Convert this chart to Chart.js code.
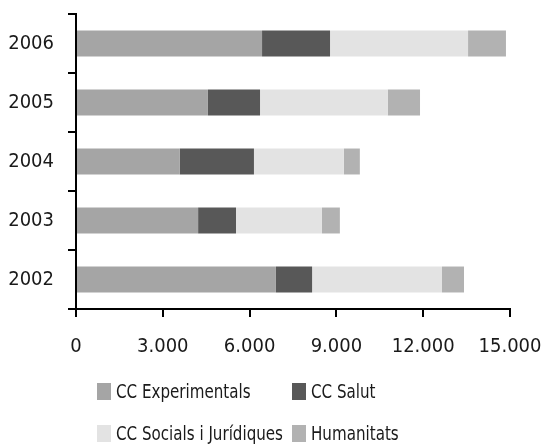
<!DOCTYPE html>
<html>
<head>
<meta charset="utf-8">
<script src="https://cdn.jsdelivr.net/npm/chart.js@4"></script>
<style>
    html, body { margin: 0; padding: 0; background: #fff; }
    #wrap { position: relative; width: 544px; height: 444px; }
    #legend { position: absolute; left: 0; top: 0; width: 544px; height: 444px; pointer-events: none; }
    .item { position: absolute; display: flex; align-items: center; font-family: "DejaVu Sans Condensed", sans-serif; font-size: 20px; line-height: 17px; color: #1a1a1a; white-space: nowrap; }
    .box { width: 14px; height: 17px; margin-right: 5px; flex: none; }
    .txt { display: inline-block; transform: scaleX(0.84); transform-origin: left center; }
</style>
</head>
<body>
<div id="wrap">
    <canvas id="chart" width="544" height="444"></canvas>
    <div id="legend"></div>
</div>
<script>
const years = ["2006", "2005", "2004", "2003", "2002"];
const experimentals = [6430, 4560, 3590, 4220, 6910];
const salut = [2350, 1800, 2560, 1310, 1250];
const socials = [4770, 4420, 3110, 2970, 4490];
const humanitats = [1310, 1110, 550, 620, 760];
const xTicks = [0, 3000, 6000, 9000, 12000, 15000];

const seriesNames = ["CC Experimentals", "CC Salut", "CC Socials i Jurídiques", "Humanitats"];
const seriesColors = ["#a5a5a5", "#585858", "#e3e3e3", "#b2b2b2"];
const seriesData = [experimentals, salut, socials, humanitats];

function fmt(v) {
    return String(v).replace(/\B(?=(\d{3})+(?!\d))/g, ".");
}

const ctx = document.getElementById("chart");

new Chart(ctx, {
    type: "bar",
    data: {
        labels: years,
        datasets: seriesNames.map((name, i) => ({
            label: name,
            data: seriesData[i],
            backgroundColor: seriesColors[i],
            borderWidth: 0,
            categoryPercentage: 1,
            barPercentage: 0.44
        }))
    },
    options: {
        indexAxis: "y",
        responsive: false,
        animation: false,
        layout: { padding: { top: 14, right: 34, bottom: 75, left: 0 } },
        plugins: {
            legend: { display: false },
            tooltip: { enabled: false }
        },
        scales: {
            x: {
                stacked: true,
                min: 0,
                max: 15000,
                afterBuildTicks: scale => {
                    scale.ticks = xTicks.map(v => ({ value: v }));
                },
                afterFit: scale => {
                    scale.height = 60;
                    scale.paddingLeft = 0;
                    scale.paddingRight = 0;
                },
                border: { color: "#000", width: 2 },
                grid: { drawOnChartArea: false, drawTicks: true, tickLength: 8, color: "#000", lineWidth: 2 },
                ticks: {
                    color: "#1a1a1a",
                    padding: 18,
                    maxRotation: 0,
                    font: { family: "DejaVu Sans Condensed", size: 20 },
                    callback: v => fmt(v)
                }
            },
            y: {
                stacked: true,
                afterFit: scale => {
                    scale.width = 76;
                    scale.paddingTop = 0;
                    scale.paddingBottom = 0;
                },
                border: { color: "#000", width: 2 },
                grid: { drawOnChartArea: false, drawTicks: true, tickLength: 8, color: "#000", lineWidth: 2, offset: true },
                ticks: {
                    color: "#1a1a1a",
                    padding: 14,
                    font: { family: "DejaVu Sans Condensed", size: 20 }
                }
            }
        }
    }
});

// legend in two columns, like the original
const legend = document.getElementById("legend");
const legendPos = [[97, 383], [292, 383], [97, 425], [292, 425]];
seriesNames.forEach((name, i) => {
    const item = document.createElement("div");
    item.className = "item";
    item.style.left = legendPos[i][0] + "px";
    item.style.top = legendPos[i][1] + "px";
    item.innerHTML = `<span class="box" style="background:${seriesColors[i]}"></span><span class="txt">${name}</span>`;
    legend.appendChild(item);
});
</script>
</body>
</html>
